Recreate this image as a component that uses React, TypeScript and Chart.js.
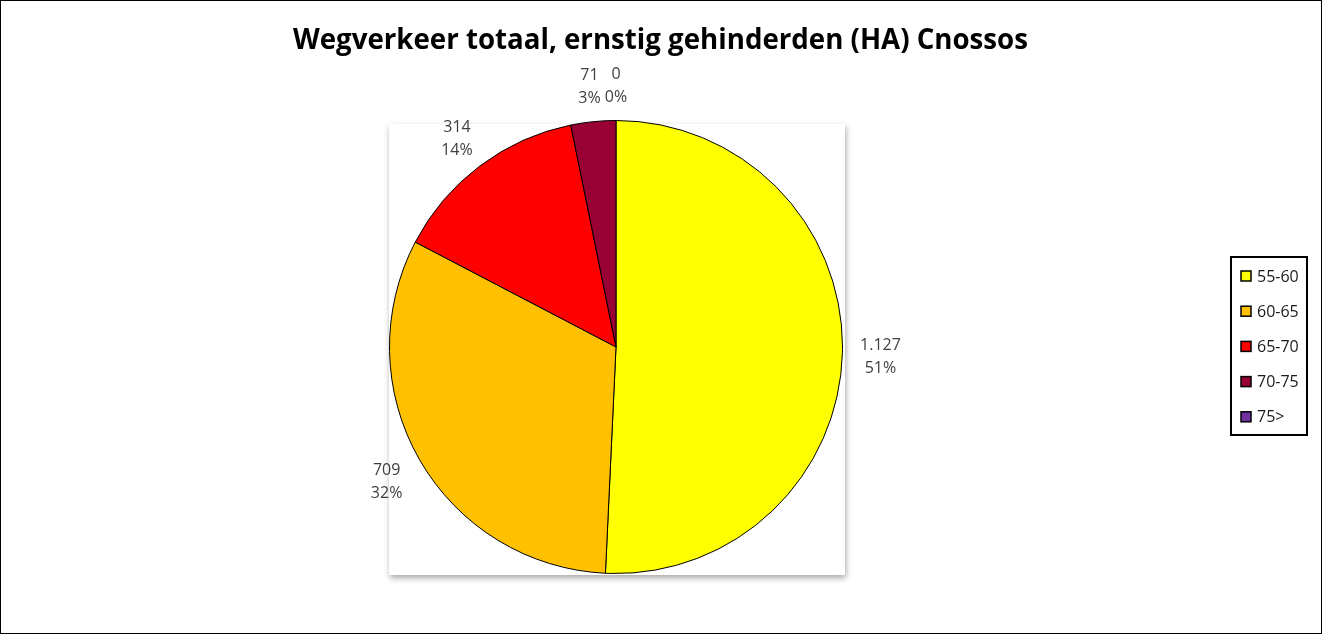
import React, { useEffect, useRef } from 'react';
import { Chart, registerables } from 'chart.js';

Chart.register(...registerables);

const title = 'Wegverkeer totaal, ernstig gehinderden (HA) Cnossos';
const categories = ['55-60', '60-65', '65-70', '70-75', '75>'];
const values = [1127, 709, 314, 71, 0];
const colors = ['#FFFF00', '#FFC000', '#FF0000', '#990033', '#7030A0'];

const W = 1322;
const H = 634;
const FONT = '"Open Sans", "Noto Sans", sans-serif';

function fmt(n: number): string {
  return String(n).replace(/\B(?=(\d{3})+(?!\d))/g, '.');
}

const decorPlugin = {
  id: 'decor',
  beforeDraw(chart: any) {
    const ctx = chart.ctx;
    const a = chart.chartArea;
    ctx.save();
    ctx.fillStyle = '#ffffff';
    ctx.fillRect(0, 0, W, H);
    // plot area with soft shadow
    ctx.shadowColor = 'rgba(0,0,0,0.35)';
    ctx.shadowBlur = 6;
    ctx.shadowOffsetX = 1;
    ctx.shadowOffsetY = 3;
    ctx.fillStyle = '#ffffff';
    ctx.fillRect(a.left, a.top + 4, a.right - a.left + 2, a.bottom - a.top - 3);
    ctx.restore();
  },
  afterDatasetsDraw(chart: any) {
    const ctx = chart.ctx;
    const meta = chart.getDatasetMeta(0);
    const data = chart.data.datasets[0].data as number[];
    const total = data.reduce((s, v) => s + v, 0);
    ctx.save();
    ctx.font = `16px ${FONT}`;
    ctx.fillStyle = '#404040';
    ctx.textAlign = 'center';
    ctx.textBaseline = 'middle';
    meta.data.forEach((arc: any, i: number) => {
      const p = arc.getProps(['x', 'y', 'startAngle', 'endAngle', 'outerRadius'], true);
      const mid = (p.startAngle + p.endAngle) / 2;
      const r = p.outerRadius + 38;
      const cx = p.x + Math.cos(mid) * r;
      const cy = p.y + Math.sin(mid) * r + 3;
      const pct = Math.round((data[i] / total) * 100) + '%';
      ctx.fillText(fmt(data[i]), cx, cy - 11);
      ctx.fillText(pct, cx, cy + 12);
    });
    ctx.restore();
  },
  afterDraw(chart: any) {
    const ctx = chart.ctx;
    ctx.save();
    // title
    ctx.font = `bold 28px ${FONT}`;
    ctx.fillStyle = '#000000';
    ctx.textBaseline = 'alphabetic';
    ctx.textAlign = 'left';
    const tw = ctx.measureText(title).width;
    const target = 735;
    const sx = target / tw;
    ctx.translate(293, 49);
    ctx.scale(sx, 1);
    ctx.fillText(title, 0, 0);
    ctx.restore();

    // legend
    ctx.save();
    ctx.strokeStyle = '#000000';
    ctx.lineWidth = 2;
    ctx.strokeRect(1231, 257, 76, 178);
    ctx.font = `16px ${FONT}`;
    ctx.textBaseline = 'middle';
    ctx.textAlign = 'left';
    categories.forEach((c, i) => {
      const y = 276 + i * 35.2;
      ctx.fillStyle = colors[i];
      ctx.fillRect(1241, y - 5, 10, 10);
      ctx.lineWidth = 1.5;
      ctx.strokeStyle = '#000000';
      ctx.strokeRect(1241, y - 5, 10, 10);
      ctx.fillStyle = '#1a1a1a';
      ctx.fillText(c, 1257, y + 1);
    });
    ctx.restore();

    // outer border
    ctx.save();
    ctx.strokeStyle = '#000000';
    ctx.lineWidth = 1;
    ctx.strokeRect(0.5, 0.5, W - 1, H - 1);
    ctx.restore();
  },
};

export default function App() {
  const ref = useRef<HTMLCanvasElement | null>(null);
  useEffect(() => {
    if (!ref.current) return;
    const chart = new Chart(ref.current, {
      type: 'pie',
      data: {
        labels: categories,
        datasets: [
          {
            data: values,
            backgroundColor: colors,
            borderColor: '#000000',
            borderWidth: 1,
          },
        ],
      },
      options: {
        responsive: false,
        animation: false,
        devicePixelRatio: 1,
        layout: { padding: { left: 389, right: W - 843, top: 120, bottom: H - 574 } },
        plugins: {
          legend: { display: false },
          title: { display: false },
          tooltip: { enabled: false },
        },
      },
      plugins: [decorPlugin],
    });
    return () => chart.destroy();
  }, []);
  return (
    <div style={{ position: 'absolute', left: 0, top: 0, width: W, height: H }}>
      <canvas ref={ref} width={W} height={H} style={{ display: 'block' }} />
    </div>
  );
}
